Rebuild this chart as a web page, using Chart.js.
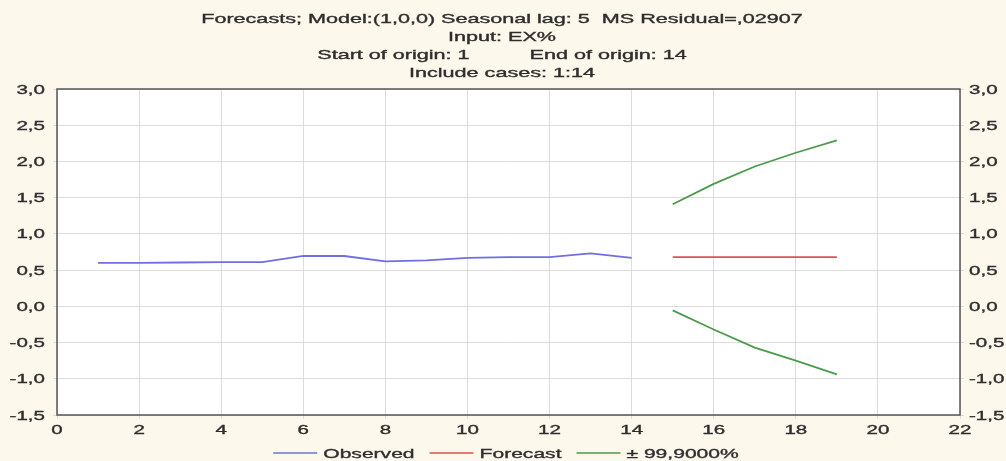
<!DOCTYPE html>
<html>
<head>
<meta charset="utf-8">
<script src="https://cdn.jsdelivr.net/npm/chart.js@4/dist/chart.umd.min.js"></script>
<style>
  html, body { margin: 0; padding: 0; background: #fdf8ec; }
</style>
</head>
<body>
<canvas id="chart" width="1006" height="461"></canvas>
<script>
// data
var obsX = [1, 2, 3, 4, 5, 6, 7, 8, 9, 10, 11, 12, 13, 14];
var observed = [0.60, 0.60, 0.605, 0.61, 0.61, 0.695, 0.695, 0.62, 0.635, 0.67, 0.68, 0.68, 0.73, 0.67];
var fcX = [15, 16, 17, 18, 19];
var forecast = [0.68, 0.68, 0.68, 0.68, 0.68];
var upper = [1.41, 1.69, 1.93, 2.12, 2.29];
var lower = [-0.055, -0.32, -0.57, -0.75, -0.94];
var xTicks = [0, 2, 4, 6, 8, 10, 12, 14, 16, 18, 20, 22];
var yTicks = [-1.5, -1.0, -0.5, 0.0, 0.5, 1.0, 1.5, 2.0, 2.5, 3.0];

var titleLines = [
    'Forecasts; Model:(1,0,0) Seasonal lag: 5  MS Residual=,02907',
    'Input: EX%',
    'Start of origin: 1          End of origin: 14',
    'Include cases: 1:14'
];

var textColor = '#2e2e2e';
var fontFamily = '"Liberation Sans", Arial, sans-serif';

function pts(xs, ys) {
    return xs.map(function(x, i) { return { x: x, y: ys[i] }; });
}

function fmtY(v) {
    return v.toFixed(1).replace('.', ',');
}

// the original text is rendered wide, so draw it with a horizontal stretch
function wideText(c, text, x, y, align, size, sx) {
    c.save();
    c.font = size + 'px ' + fontFamily;
    c.fillStyle = textColor;
    c.strokeStyle = textColor;
    c.lineWidth = 0.35;
    c.textBaseline = 'alphabetic';
    c.textAlign = align;
    c.translate(x, y);
    c.scale(sx, 1);
    c.fillText(text, 0, 0);
    c.strokeText(text, 0, 0);
    c.restore();
}

function wideWidth(c, text, size, sx) {
    c.save();
    c.font = size + 'px ' + fontFamily;
    var w = c.measureText(text).width * sx;
    c.restore();
    return w;
}

var decoPlugin = {
    id: 'deco',
    beforeDraw: function(chart) {
        var c = chart.ctx, a = chart.chartArea;
        c.save();
        c.fillStyle = '#fdf8ec';
        c.fillRect(0, 0, chart.width, chart.height);
        c.fillStyle = '#ffffff';
        c.fillRect(a.left, a.top, a.right - a.left, a.bottom - a.top);
        c.restore();
    },
    afterDraw: function(chart) {
        var c = chart.ctx, a = chart.chartArea;
        c.save();
        c.strokeStyle = '#555555';
        c.lineWidth = 1.5;
        c.strokeRect(a.left, a.top, a.right - a.left, a.bottom - a.top);
        c.restore();

        // title
        var cx = 502;
        var base = [22.5, 40.8, 59, 77.3];
        titleLines.forEach(function(t, i) {
            wideText(c, t, cx, base[i], 'center', 13, 1.66);
        });

        // tick labels
        var ys = chart.scales.y, xs = chart.scales.x;
        yTicks.forEach(function(v) {
            var py = ys.getPixelForValue(v) + 4.5;
            wideText(c, fmtY(v), a.left - 12, py, 'right', 13, 1.58);
            wideText(c, fmtY(v), a.right + 9, py, 'left', 13, 1.58);
        });
        xTicks.forEach(function(v) {
            wideText(c, String(v), xs.getPixelForValue(v), a.bottom + 19, 'center', 13, 1.58);
        });

        // legend
        var items = [];
        chart.data.datasets.forEach(function(ds) {
            if (ds.label !== 'lower') items.push(ds);
        });
        var lineW = 44, gap1 = 6, gap2 = 15, size = 13.5, sx = 1.56;
        var total = 0;
        items.forEach(function(ds, i) {
            total += lineW + gap1 + wideWidth(c, ds.label, size, sx) + (i < items.length - 1 ? gap2 : 0);
        });
        var x = 506 - total / 2, ly = 453;
        items.forEach(function(ds) {
            c.save();
            c.strokeStyle = ds.borderColor;
            c.lineWidth = 1.5;
            c.beginPath();
            c.moveTo(x, ly);
            c.lineTo(x + lineW, ly);
            c.stroke();
            c.restore();
            x += lineW + gap1;
            wideText(c, ds.label, x, ly + 4.5, 'left', size, sx);
            x += wideWidth(c, ds.label, size, sx) + gap2;
        });
    }
};

var lineDefaults = { pointRadius: 0, borderWidth: 1.8, tension: 0, fill: false };

var ctx = document.getElementById('chart');
var chart = new Chart(ctx, {
    type: 'line',
    data: {
        datasets: [
            Object.assign({ label: 'Observed', data: pts(obsX, observed), borderColor: '#6f6fe2' }, lineDefaults),
            Object.assign({ label: 'Forecast', data: pts(fcX, forecast), borderColor: '#e0504f' }, lineDefaults),
            Object.assign({ label: '± 99,9000%', data: pts(fcX, upper), borderColor: '#4c9a4c' }, lineDefaults),
            Object.assign({ label: 'lower', data: pts(fcX, lower), borderColor: '#4c9a4c' }, lineDefaults)
        ]
    },
    options: {
        responsive: false,
        animation: false,
        layout: { padding: { left: 0, right: 0, top: 89, bottom: 46 } },
        plugins: {
            title: { display: false },
            legend: { display: false },
            tooltip: { enabled: false }
        },
        scales: {
            x: {
                type: 'linear',
                min: 0,
                max: 22,
                afterBuildTicks: function(s) { s.ticks = xTicks.map(function(v) { return { value: v }; }); },
                grid: { color: '#dcdcdc', tickLength: 4 },
                border: { display: false },
                ticks: { display: false },
                afterFit: function(s) { s.height = 0; }
            },
            y: {
                position: 'left',
                min: -1.5,
                max: 3.0,
                afterBuildTicks: function(s) { s.ticks = yTicks.map(function(v) { return { value: v }; }); },
                grid: { color: '#dcdcdc', tickLength: 4 },
                border: { display: false },
                ticks: { display: false },
                afterFit: function(s) { s.width = 57; }
            },
            y2: {
                position: 'right',
                min: -1.5,
                max: 3.0,
                afterBuildTicks: function(s) { s.ticks = yTicks.map(function(v) { return { value: v }; }); },
                grid: { drawOnChartArea: false, color: '#dcdcdc', tickLength: 4 },
                border: { display: false },
                ticks: { display: false },
                afterFit: function(s) { s.width = 46; }
            }
        }
    },
    plugins: [decoPlugin]
});
</script>
</body>
</html>
